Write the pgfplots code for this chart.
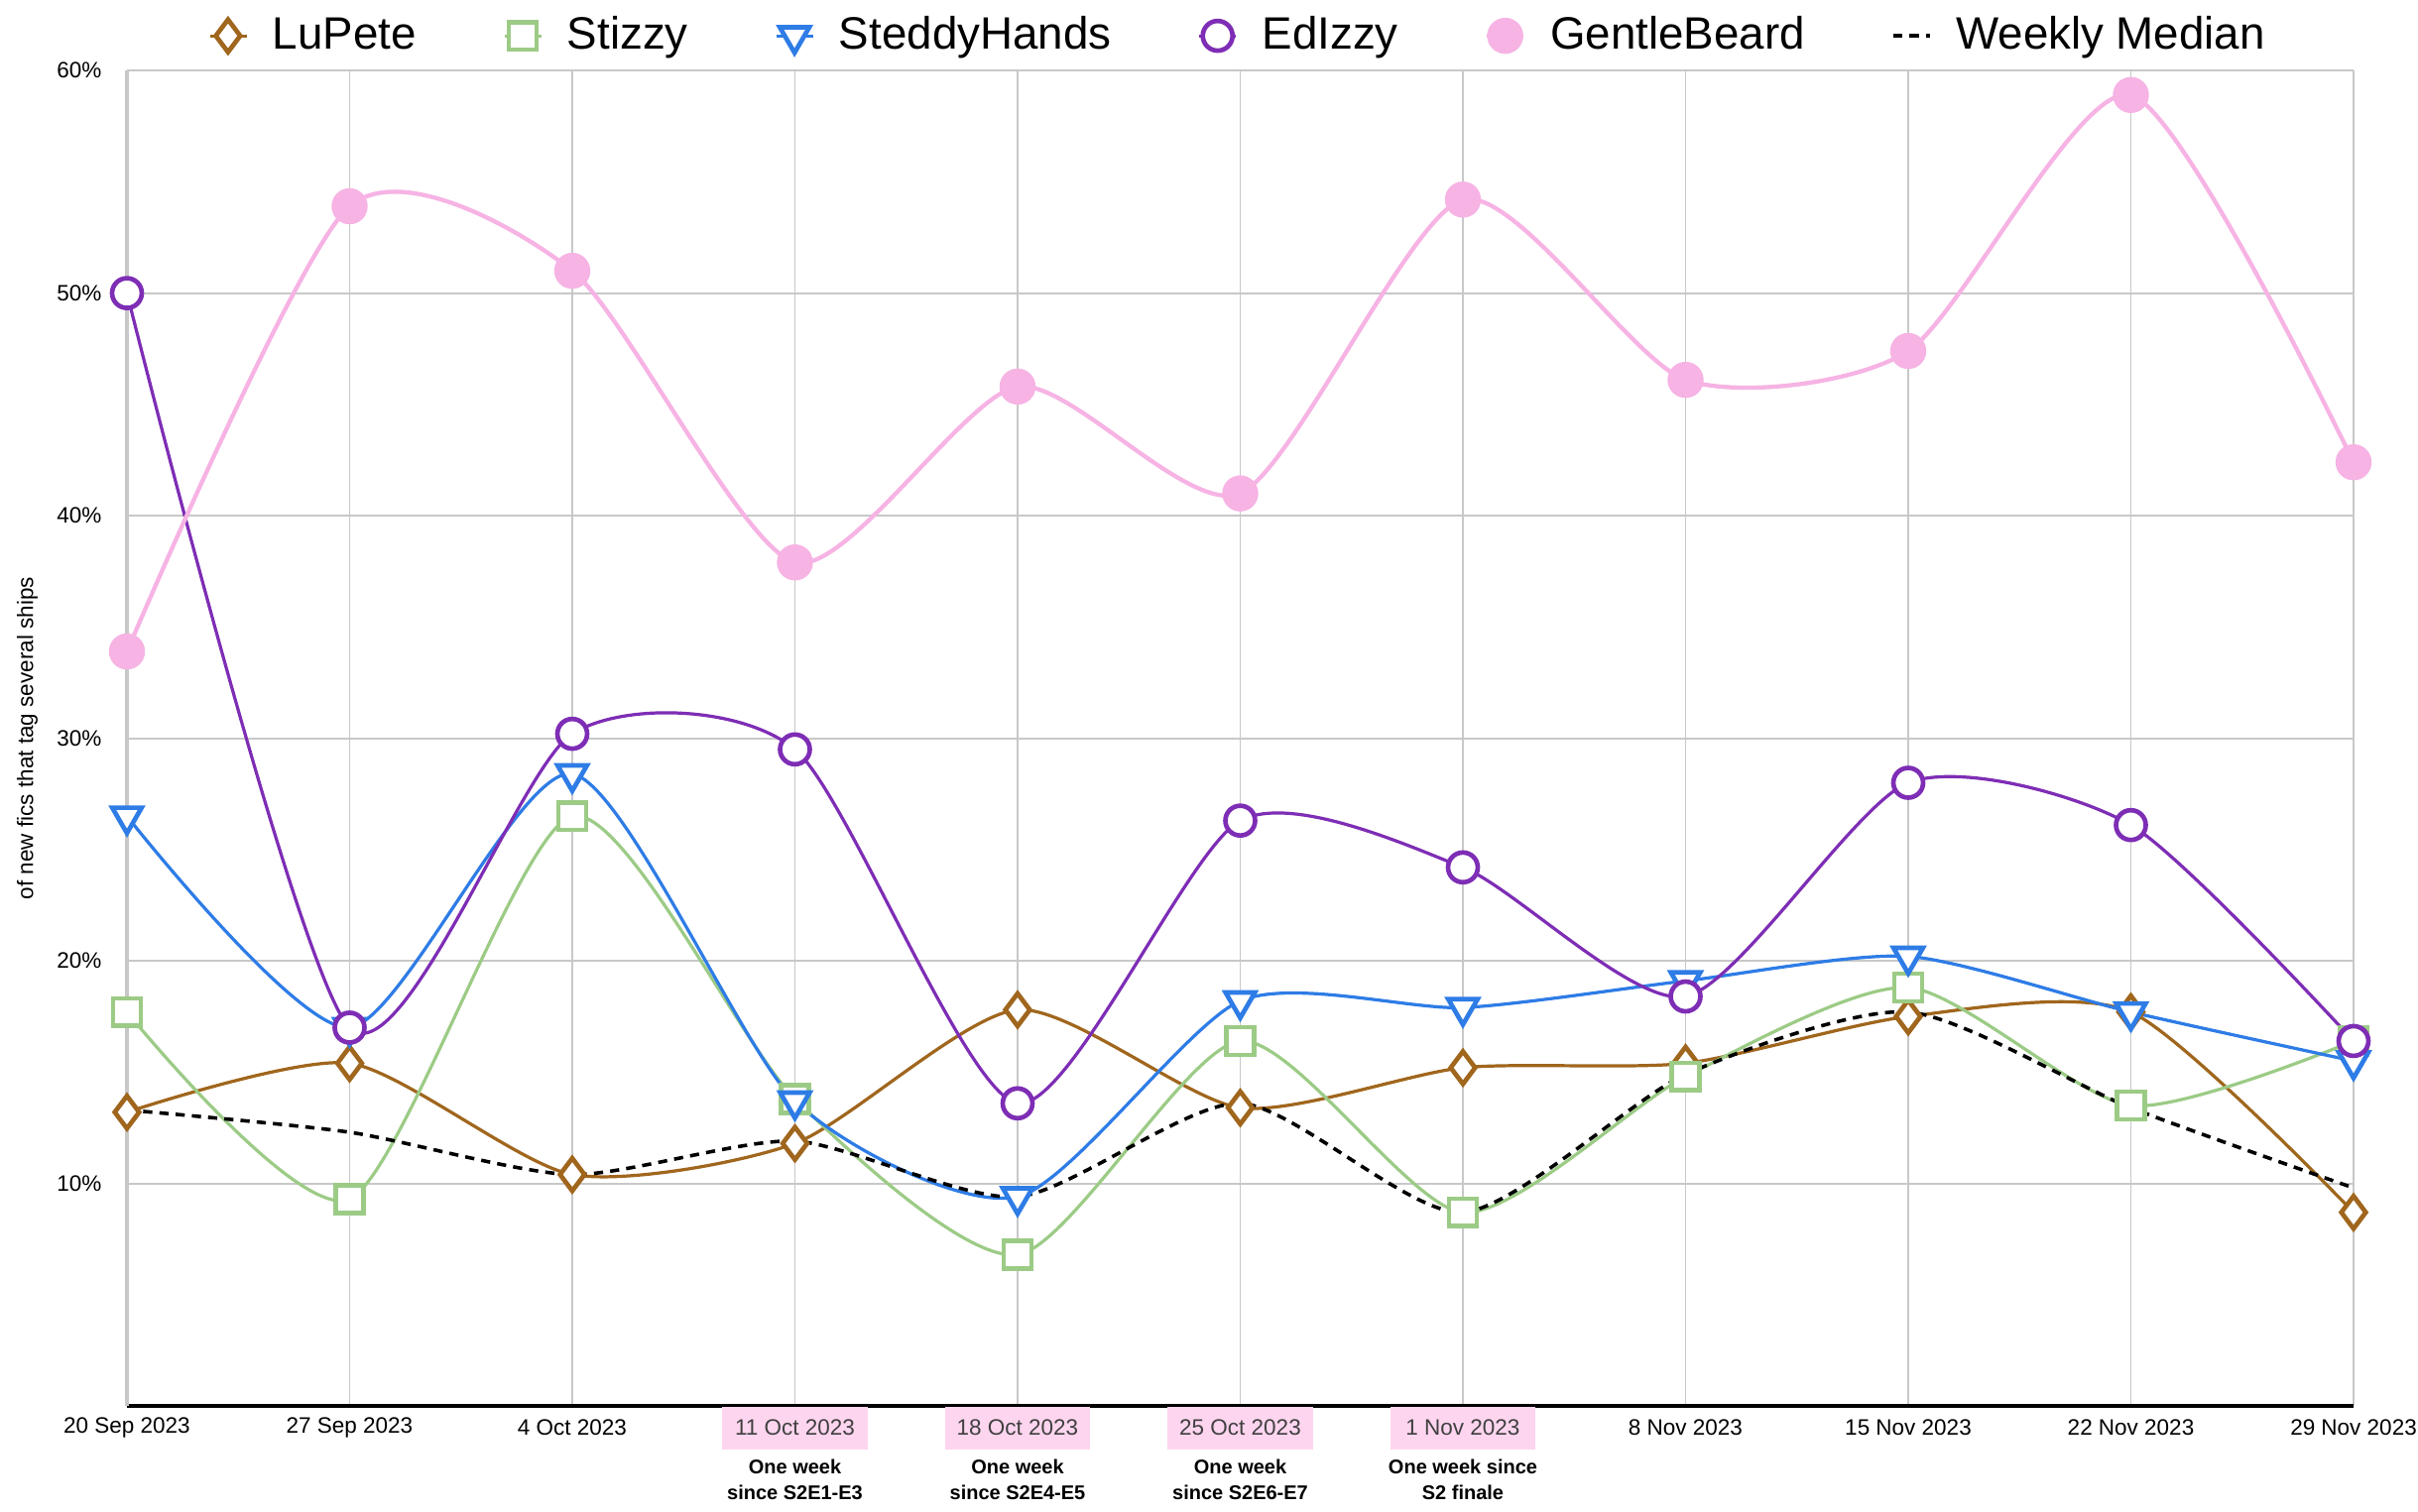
\documentclass[border=0pt]{standalone}
\usepackage{pgfplots}
\pgfplotsset{compat=1.18}
\usepackage{fontspec}
\setmainfont{Liberation Sans}

\definecolor{cLu}{HTML}{A0661D}
\definecolor{cSt}{HTML}{9CCB86}
\definecolor{cSh}{HTML}{2E7CE6}
\definecolor{cEd}{HTML}{7E2DB5}
\definecolor{cGb}{HTML}{F6B3E4}
\definecolor{gridgray}{HTML}{C8C8C8}
\definecolor{tickpink}{HTML}{FED5EF}

\newcommand\pk[1]{{\setlength\fboxsep{0pt}\colorbox{tickpink}{\parbox[c][12pt][c]{41pt}{\centering\color{black!75}#1}}}}
\newcommand\nk[1]{\parbox[c][12pt][c]{41pt}{\centering #1}}

\begin{document}
\begin{tikzpicture}
\begin{axis}[
scale only axis,
width=22.1cm,
height=13.26cm,
xmin=0, xmax=10,
ymin=0, ymax=60,
clip=false,
separate axis lines,
axis x line*=bottom,
axis y line*=left,
x axis line style={-, black, line width=1.1pt},
y axis line style={-, gridgray, line width=1.3pt},
grid=major,
major grid style={draw=gridgray, line width=0.5pt},
major tick length=0pt,
xtick={0,...,10},
xticklabels={\nk{20 Sep 2023},\nk{27 Sep 2023},\nk{4 Oct 2023},\pk{11 Oct 2023},\pk{18 Oct 2023},\pk{25 Oct 2023},\pk{1 Nov 2023},\nk{8 Nov 2023},\nk{15 Nov 2023},\nk{22 Nov 2023},\nk{29 Nov 2023}},
xticklabel shift=0pt,
xticklabel style={anchor=north, inner sep=0pt, font=\fontsize{6.3}{7}\selectfont},
ytick={10,20,30,40,50,60},
yticklabels={10\%,20\%,30\%,40\%,50\%,60\%},
yticklabel shift=7pt,
yticklabel style={inner sep=0pt, font=\fontsize{6.3}{7}\selectfont},
ylabel={of new fics that tag several ships},
ylabel style={at={(axis description cs:-0.0447,0.5)}, anchor=center, font=\fontsize{6.3}{7}\selectfont},
legend style={at={(0.5,1)}, anchor=center, yshift=9.8pt, draw=none, fill=none,
  font=\fontsize{12.8}{14}\selectfont, legend columns=-1,
  /tikz/every odd column/.append style={column sep=5pt},
  /tikz/every even column/.append style={column sep=22.5pt}},
legend image code/.code={\draw[mark repeat=2,mark phase=2,#1] plot coordinates {(0cm,0cm) (0.18cm,0cm) (0.36cm,0cm)};},
every axis plot/.append style={smooth, tension=0.42, line width=0.9pt},
]
\addplot[color=cLu, mark=diamond*, mark size=4.6pt, mark options={solid, fill=white, line width=1.3pt}]
coordinates {(0,13.2) (1,15.4) (2,10.4) (3,11.8) (4,17.8) (5,13.4) (6,15.2) (7,15.4) (8,17.5) (9,17.7) (10,8.7)};
\addlegendentry{LuPete}
\addplot[color=cSt, mark=square*, mark size=3.9pt, mark options={solid, fill=white, line width=1.3pt}]
coordinates {(0,17.7) (1,9.3) (2,26.5) (3,13.8) (4,6.8) (5,16.4) (6,8.7) (7,14.8) (8,18.8) (9,13.5) (10,16.4)};
\addlegendentry{Stizzy}
\addplot[color=cSh, mark=triangle*, mark size=4.8pt, mark options={solid, fill=white, rotate=180, line width=1.3pt}]
coordinates {(0,26.5) (1,17.0) (2,28.4) (3,13.7) (4,9.4) (5,18.2) (6,17.9) (7,19.1) (8,20.2) (9,17.7) (10,15.5)};
\addlegendentry{SteddyHands}
\addplot[color=cEd, mark=*, mark size=4.2pt, mark options={solid, fill=white, line width=1.3pt}]
coordinates {(0,50.0) (1,17.0) (2,30.2) (3,29.5) (4,13.6) (5,26.3) (6,24.2) (7,18.4) (8,28.0) (9,26.1) (10,16.4)};
\addlegendentry{EdIzzy}
\addplot[color=cGb, line width=1.2pt, mark=*, mark size=4.5pt, mark options={solid, fill=cGb, draw=cGb}]
coordinates {(0,33.9) (1,53.9) (2,51.0) (3,37.9) (4,45.8) (5,41.0) (6,54.2) (7,46.1) (8,47.4) (9,58.9) (10,42.4)};
\addlegendentry{GentleBeard}
\addplot[color=black, line width=1pt, dash pattern=on 2.6pt off 2pt]
coordinates {(0,13.3) (1,12.3) (2,10.4) (3,11.9) (4,9.4) (5,13.6) (6,8.7) (7,14.9) (8,17.7) (9,13.4) (10,9.8)};
\addlegendentry{Weekly Median}

\begin{scope}[every node/.style={anchor=north, align=center, inner sep=0pt, font=\bfseries\fontsize{5.6}{7.4}\selectfont}]
\node at (axis cs:3,0) [yshift=-14.8pt] {One week\\since S2E1-E3};
\node at (axis cs:4,0) [yshift=-14.8pt] {One week\\since S2E4-E5};
\node at (axis cs:5,0) [yshift=-14.8pt] {One week\\since S2E6-E7};
\node at (axis cs:6,0) [yshift=-14.8pt] {One week since\\S2 finale};
\end{scope}
\coordinate (sw) at (rel axis cs:0,0);
\coordinate (ne) at (rel axis cs:1,1);
\end{axis}
\pgfresetboundingbox
\path ([shift={(-1.26cm,-1.05cm)}]sw) rectangle ([shift={(0.64cm,0.70cm)}]ne);
\end{tikzpicture}
\end{document}
